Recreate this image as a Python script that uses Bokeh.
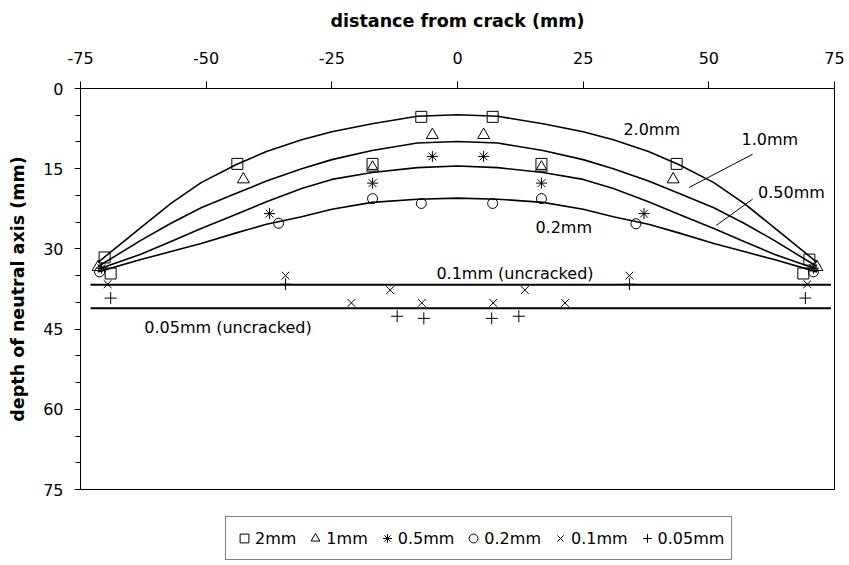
from bokeh.plotting import figure
from bokeh.layouts import column
from bokeh.models import Range1d, FixedTicker, Legend, LegendItem, ColumnDataSource
from bokeh.core.properties import value
from bokeh.embed import file_html
from bokeh.resources import INLINE

# ---------------- data ----------------
x_ticks = [-75, -50, -25, 0, 25, 50, 75]
y_ticks = [0, 15, 30, 45, 60, 75]
y_minor = [5, 10, 20, 25, 35, 40, 50, 55, 65, 70]

sq_x = [-70.2, -69.0, -43.8, -16.9, -7.2, 7.0, 16.7, 43.6, 68.8, 70.0]
sq_y = [31.6, 34.6, 14.1, 14.1, 5.3, 5.3, 14.1, 14.1, 34.6, 32.0]

tri_x = [-71.5, -42.6, -16.9, -5.0, 5.2, 16.7, 42.9, 71.5]
tri_y = [33.4, 17.0, 14.8, 8.7, 8.7, 14.8, 17.0, 33.4]

ast_x = [-70.8, -37.4, -16.9, -5.0, 5.2, 16.7, 37.1, 70.8]
ast_y = [33.6, 23.4, 17.7, 12.7, 12.7, 17.7, 23.4, 33.6]

circ_x = [-71.2, -35.6, -16.9, -7.2, 7.0, 16.7, 35.5, 70.8]
circ_y = [34.3, 25.2, 20.6, 21.5, 21.5, 20.6, 25.3, 34.3]

x01_x = [-69.6, -34.2, -21.1, -13.4, -7.1, 7.1, 13.4, 21.4, 34.2, 69.6]
x01_y = [36.6, 35.0, 40.1, 37.7, 40.1, 40.1, 37.7, 40.1, 35.0, 36.6]

plus_x = [-69.0, -34.2, -12.0, -6.7, 6.8, 12.2, 34.2, 69.2]
plus_y = [39.2, 36.6, 42.6, 43.0, 43.0, 42.6, 36.6, 39.2]

# trend curves
fit_x = [-71.5, -63, -57, -51, -44, -38, -31, -25, -17, -8, 0,
         8, 17, 25, 31, 38, 44, 51, 57, 63, 71.5]
fit_2mm = [32.5, 26.0, 21.5, 17.6, 14.2, 11.8, 9.6, 8.1, 6.6, 5.2, 4.9,
           5.2, 6.6, 8.1, 9.6, 11.8, 14.2, 17.6, 21.5, 26.0, 32.5]
fit_1mm = [33.3, 28.4, 25.2, 22.3, 19.6, 17.3, 15.0, 13.3, 11.6, 10.2, 9.9,
           10.2, 11.6, 13.3, 15.0, 17.3, 19.6, 22.3, 25.2, 28.4, 33.3]
fit_05mm = [33.8, 31.0, 28.6, 26.2, 23.5, 21.2, 18.7, 17.0, 15.7, 14.8, 14.5,
            14.8, 15.7, 17.0, 18.7, 21.2, 23.5, 26.2, 28.6, 31.0, 33.8]
fit_02mm = [34.3, 32.0, 30.5, 29.0, 27.0, 25.4, 24.0, 22.6, 21.3, 20.7, 20.5,
            20.7, 21.3, 22.6, 24.0, 25.4, 27.0, 29.0, 30.5, 32.0, 34.3]

hline_x = [-73.0, 74.3]
uncracked_01 = 36.7
uncracked_005 = 41.1

labels_text = ["2.0mm", "1.0mm", "0.50mm", "0.2mm", "0.1mm (uncracked)", "0.05mm (uncracked)"]
labels_x = [33.0, 56.5, 59.8, 15.5, -4.2, -62.3]
labels_y = [7.7, 9.6, 19.4, 26.0, 34.6, 44.7]

leader_x = [[58.7, 46.1], [58.7, 51.5]]
leader_y = [[12.3, 18.5], [20.7, 25.6]]

series_names = ["2mm", "1mm", "0.5mm", "0.2mm", "0.1mm", "0.05mm"]

FONT = "DejaVu Sans"

p = figure(width=848, height=501, output_backend="svg", toolbar_location=None,
           x_range=Range1d(-75, 75), y_range=Range1d(75, 0),
           x_axis_location="above",
           min_border_left=80, min_border_top=88, min_border_right=14, min_border_bottom=12)

p.xgrid.visible = False
p.ygrid.visible = False
p.outline_line_color = "black"
p.outline_line_width = 1
p.background_fill_color = "white"

xa = p.xaxis[0]
xa.ticker = FixedTicker(ticks=x_ticks)
xa.major_label_overrides = {t: str(t) for t in x_ticks}
xa.axis_label = "distance from crack (mm)"
xa.axis_label_text_font = FONT
xa.axis_label_text_font_style = "bold"
xa.axis_label_text_font_size = "17.5px"
xa.axis_label_text_color = "black"
xa.axis_label_standoff = 18
xa.major_label_text_font = FONT
xa.major_label_text_font_size = "16px"
xa.major_label_text_color = "black"
xa.major_label_standoff = 18
xa.major_tick_out = 7
xa.major_tick_in = 0
xa.axis_line_color = "black"
xa.major_tick_line_color = "black"

ya = p.yaxis[0]
ya.ticker = FixedTicker(ticks=y_ticks, minor_ticks=y_minor)
ya.axis_label = "depth of neutral axis (mm)"
ya.axis_label_text_font = FONT
ya.axis_label_text_font_style = "bold"
ya.axis_label_text_font_size = "17.5px"
ya.axis_label_text_color = "black"
ya.axis_label_standoff = 12
ya.major_label_text_font = FONT
ya.major_label_text_font_size = "16px"
ya.major_label_text_color = "black"
ya.major_label_standoff = 11
ya.major_tick_out = 6
ya.major_tick_in = 0
ya.minor_tick_out = 5
ya.minor_tick_in = 0
ya.minor_tick_line_color = "black"
ya.axis_line_color = "black"

# trend curves
for fy in [fit_2mm, fit_1mm, fit_05mm, fit_02mm]:
    p.line(fit_x, fy, line_color="black", line_width=1.6)

# uncracked lines
p.line(hline_x, [uncracked_01, uncracked_01], line_color="black", line_width=2)
p.line(hline_x, [uncracked_005, uncracked_005], line_color="black", line_width=2)

# leader lines
p.multi_line(leader_x, leader_y, line_color="black", line_width=1)

marker_styles = [("square", 11), ("triangle", 12), ("asterisk", 11),
                 ("circle", 10), ("x", 11), ("cross", 12)]
series_x = [sq_x, tri_x, ast_x, circ_x, x01_x, plus_x]
series_y = [sq_y, tri_y, ast_y, circ_y, x01_y, plus_y]

for (mk, sz), sx, sy in zip(marker_styles, series_x, series_y):
    p.scatter(sx, sy, marker=mk, size=sz, fill_color=None, line_color="black", line_width=1)

# curve labels
lab_src = ColumnDataSource(dict(x=labels_x, y=labels_y, t=labels_text))
p.text(x="x", y="y", text="t", source=lab_src, text_font=value(FONT), text_font_size="16px",
       text_align="left", text_baseline="middle", text_color="black")

# ---------------- legend strip ----------------
# same series drawn in a strip whose ranges keep the points out of view;
# only their legend entries are seen
pl = figure(width=848, height=63, output_backend="svg", toolbar_location=None,
            x_range=Range1d(200, 300), y_range=Range1d(200, 300),
            min_border_left=80, min_border_right=14, min_border_top=0, min_border_bottom=0)
pl.axis.visible = False
pl.xgrid.visible = False
pl.ygrid.visible = False
pl.outline_line_color = None
pl.background_fill_color = "white"

leg_renderers = []
for (mk, sz), sx, sy in zip(marker_styles, series_x, series_y):
    r = pl.scatter(sx, sy, marker=mk, size=sz, fill_color=None, line_color="black", line_width=1)
    leg_renderers.append(r)

items = [LegendItem(label=n, renderers=[r]) for n, r in zip(series_names, leg_renderers)]
legend = Legend(items=items, orientation="horizontal", location=(145, 4),
                label_text_font=FONT, label_text_font_size="16px", label_text_color="black",
                glyph_width=22, glyph_height=28, label_standoff=0, spacing=8,
                padding=7, margin=0,
                border_line_color="black", border_line_width=1,
                background_fill_color="white", background_fill_alpha=1)
pl.add_layout(legend, "center")

layout = column(p, pl, spacing=0)
open("out.html", "w").write(file_html(layout, INLINE))
